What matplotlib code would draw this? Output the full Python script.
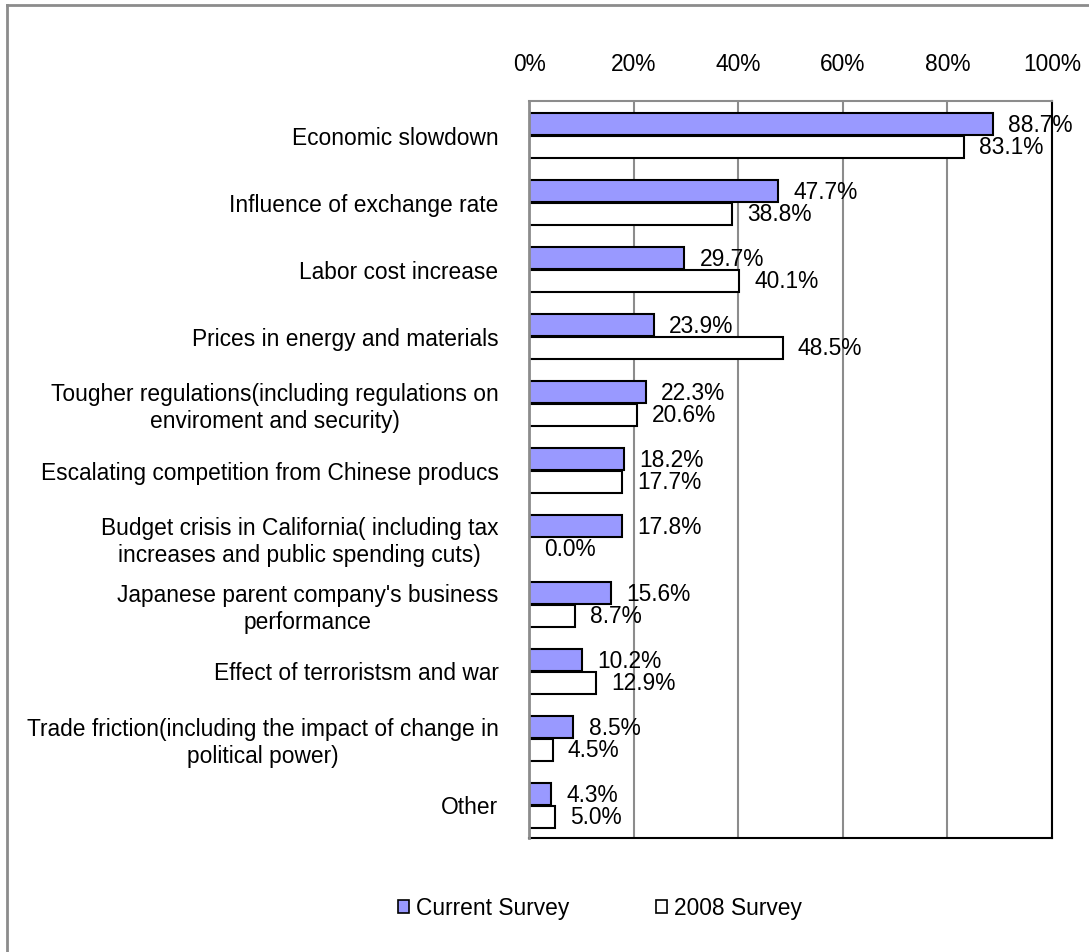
import matplotlib
matplotlib.use("Agg")
import matplotlib.pyplot as plt
from matplotlib.lines import Line2D
from matplotlib.patches import Patch
import numpy as np

plt.rcParams['font.family'] = ['Liberation Sans', 'DejaVu Sans']

categories = [
    "Economic slowdown",
    "Influence of exchange rate",
    "Labor cost increase",
    "Prices in energy and materials",
    "Tougher regulations(including regulations on\nenviroment and security)",
    "Escalating competition from Chinese producs",
    "Budget crisis in California( including tax\nincreases and public spending cuts)",
    "Japanese parent company's business\nperformance",
    "Effect of terroristsm and war",
    "Trade friction(including the impact of change in\npolitical power)",
    "Other",
]
current_survey = [88.7, 47.7, 29.7, 23.9, 22.3, 18.2, 17.8, 15.6, 10.2, 8.5, 4.3]
survey_2008 = [83.1, 38.8, 40.1, 48.5, 20.6, 17.7, 0.0, 8.7, 12.9, 4.5, 5.0]
x_ticks = [0, 20, 40, 60, 80, 100]
x_tick_labels = ["0%", "20%", "40%", "60%", "80%", "100%"]
series_names = ["Current Survey", "2008 Survey"]

FS = 16.4
fig = plt.figure(figsize=(10.89, 9.53), dpi=100)
ax = fig.add_axes([529 / 1089, 1 - 839 / 953, (1052 - 529) / 1089, (839 - 102) / 953])

y = np.arange(len(categories))
h = 0.335
off = 0.17
b1 = ax.barh(y + 0.015 - off, current_survey, height=h, color="#9999FF",
             edgecolor="black", linewidth=1.5, zorder=3)
b2 = ax.barh(y + 0.015 + off, survey_2008, height=h, color="white",
             edgecolor="black", linewidth=1.5, zorder=3)

for bars, vals in ((b1, current_survey), (b2, survey_2008)):
    for rect, v in zip(bars, vals):
        ax.annotate(f"{v:.1f}%", (v, rect.get_y() + rect.get_height() / 2),
                    xytext=(11, 0), textcoords="offset points",
                    ha="left", va="center", fontsize=FS, zorder=4,
                    annotation_clip=False)

ax.set_xlim(0, 100)
ax.set_ylim(len(categories) - 0.5, -0.5)
ax.set_xticks(x_ticks)
ax.set_xticklabels(x_tick_labels, fontsize=FS)
ax.xaxis.tick_top()
ax.tick_params(axis="x", length=0, pad=19)
ax.set_yticks(y)
ax.set_yticklabels(categories, fontsize=FS, multialignment="center")
ax.tick_params(axis="y", length=0, pad=22)
ax.grid(axis="x", color="#8c8c8c", linewidth=1.5, zorder=0)
ax.set_axisbelow(True)

ax.spines["left"].set_color("#8c8c8c")
ax.spines["left"].set_linewidth(2)
ax.spines["left"].set_zorder(5)
ax.spines["top"].set_color("#8c8c8c")
ax.spines["top"].set_linewidth(1.5)
ax.spines["right"].set_color("black")
ax.spines["right"].set_linewidth(1.5)
ax.spines["bottom"].set_color("black")
ax.spines["bottom"].set_linewidth(1.5)

handles = [Patch(facecolor="#9999FF", edgecolor="black", linewidth=1.2),
           Patch(facecolor="white", edgecolor="black", linewidth=1.2)]
fig.legend(handles, series_names, loc="center", ncol=2,
           bbox_to_anchor=(0.551, 1 - 909 / 953), frameon=False, fontsize=FS,
           handlelength=0.48, handleheight=0.48, handletextpad=0.3,
           columnspacing=3.8)

# outer chart frame (top and left edges)
fig.add_artist(Line2D([7 / 1089, 7 / 1089], [0, 1 - 6 / 953],
                      transform=fig.transFigure, color="#8c8c8c", linewidth=2))
fig.add_artist(Line2D([7 / 1089, 1], [1 - 6 / 953, 1 - 6 / 953],
                      transform=fig.transFigure, color="#8c8c8c", linewidth=2))

fig.savefig("out.png", dpi=100)
